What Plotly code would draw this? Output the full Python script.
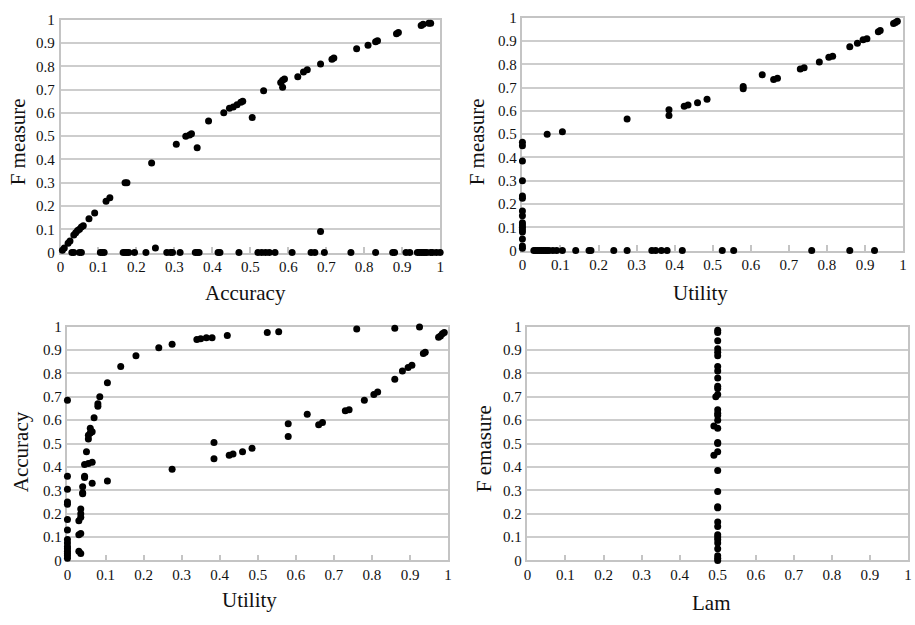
import plotly.graph_objects as go

# ---------------- Data ----------------
# Panel 1: F measure vs Accuracy
p1_acc = [0.005, 0.01, 0.02, 0.025, 0.035, 0.04, 0.045, 0.05, 0.055, 0.06, 0.075, 0.09,
          0.12, 0.13, 0.17, 0.175, 0.24, 0.305, 0.33, 0.34, 0.345, 0.36, 0.39, 0.43, 0.445,
          0.455, 0.465, 0.475, 0.48, 0.505, 0.535, 0.58, 0.585, 0.59, 0.585, 0.625, 0.64,
          0.65, 0.685, 0.715, 0.72, 0.78, 0.81, 0.83, 0.835, 0.885, 0.89, 0.95, 0.955, 0.97,
          0.975, 0.685, 0.25,
          0.03, 0.035, 0.05, 0.055, 0.105, 0.11, 0.115, 0.165, 0.17, 0.175, 0.18, 0.195,
          0.225, 0.28, 0.29, 0.295, 0.315, 0.355, 0.36, 0.365, 0.415, 0.42, 0.47, 0.52,
          0.53, 0.54, 0.55, 0.565, 0.61, 0.66, 0.67, 0.695, 0.765, 0.83, 0.875, 0.88, 0.91,
          0.92, 0.94, 0.945, 0.95, 0.955, 0.96, 0.965, 0.975, 0.98, 0.99, 1.0]
p1_f = [0.01, 0.02, 0.04, 0.05, 0.075, 0.085, 0.095, 0.10, 0.11, 0.115, 0.145, 0.17,
        0.22, 0.235, 0.30, 0.30, 0.385, 0.465, 0.50, 0.505, 0.51, 0.45, 0.565, 0.60, 0.62,
        0.625, 0.635, 0.645, 0.65, 0.58, 0.695, 0.73, 0.74, 0.745, 0.71, 0.755, 0.775,
        0.785, 0.81, 0.83, 0.835, 0.875, 0.89, 0.905, 0.91, 0.94, 0.945, 0.975, 0.98, 0.985,
        0.985, 0.09, 0.02,
        0, 0, 0, 0, 0, 0, 0, 0, 0, 0, 0, 0,
        0, 0, 0, 0, 0, 0, 0, 0, 0, 0, 0, 0,
        0, 0, 0, 0, 0, 0, 0, 0, 0, 0, 0, 0, 0,
        0, 0, 0, 0, 0, 0, 0, 0, 0, 0, 0]

# Panel 2: F measure vs Utility
p2_util = [0, 0, 0, 0, 0, 0, 0, 0, 0, 0, 0, 0, 0, 0, 0, 0,
           0.065, 0.105, 0.275, 0.385, 0.385, 0.425, 0.435, 0.46, 0.485, 0.58, 0.58, 0.63,
           0.66, 0.67, 0.73, 0.74, 0.78, 0.805, 0.815, 0.86, 0.88, 0.895, 0.905, 0.935, 0.94,
           0.975, 0.98, 0.985,
           0.03, 0.035, 0.04, 0.045, 0.05, 0.055, 0.06, 0.065, 0.07, 0.08, 0.09, 0.105, 0.14,
           0.175, 0.18, 0.24, 0.275, 0.34, 0.35, 0.365, 0.38, 0.42, 0.525, 0.555, 0.76, 0.86,
           0.925]
p2_f = [0.01, 0.02, 0.05, 0.08, 0.09, 0.10, 0.11, 0.12, 0.15, 0.17, 0.225, 0.235, 0.30,
        0.385, 0.45, 0.465,
        0.50, 0.51, 0.565, 0.605, 0.58, 0.62, 0.625, 0.635, 0.65, 0.705, 0.695, 0.755,
        0.735, 0.74, 0.78, 0.785, 0.81, 0.83, 0.835, 0.875, 0.89, 0.905, 0.91, 0.94, 0.945,
        0.975, 0.98, 0.985,
        0, 0, 0, 0, 0, 0, 0, 0, 0, 0, 0, 0, 0,
        0, 0, 0, 0, 0, 0, 0, 0, 0, 0, 0, 0, 0,
        0]

# Panel 3: Accuracy vs Utility
p3_util = [0, 0, 0, 0, 0, 0, 0, 0, 0, 0, 0, 0, 0, 0, 0,
           0.03, 0.035, 0.03, 0.035, 0.03, 0.035, 0.035, 0.035, 0.04, 0.04, 0.04, 0.045,
           0.045, 0.045, 0.05, 0.055, 0.055, 0.055, 0.06, 0.06, 0.065, 0.065, 0.065, 0.07,
           0.08, 0.08, 0.085, 0.105, 0.14, 0.18, 0.24, 0.275, 0.34, 0.35, 0.365, 0.38, 0.42,
           0.525, 0.555, 0.76, 0.86, 0.925,
           0.105, 0.275, 0.385, 0.385, 0.425, 0.435, 0.46, 0.485, 0.58, 0.58, 0.63, 0.66,
           0.67, 0.73, 0.74, 0.78, 0.805, 0.815, 0.86, 0.88, 0.895, 0.905, 0.935, 0.94,
           0.975, 0.98, 0.985, 0.99]
p3_acc = [0.01, 0.02, 0.03, 0.04, 0.05, 0.06, 0.075, 0.09, 0.13, 0.175, 0.24, 0.25, 0.305,
          0.36, 0.685,
          0.04, 0.03, 0.11, 0.115, 0.17, 0.185, 0.20, 0.22, 0.285, 0.29, 0.315, 0.355,
          0.36, 0.41, 0.465, 0.415, 0.52, 0.535, 0.545, 0.565, 0.55, 0.42, 0.33, 0.61,
          0.66, 0.67, 0.70, 0.76, 0.83, 0.875, 0.91, 0.925, 0.945, 0.948, 0.952, 0.952, 0.962,
          0.975, 0.978, 0.99, 0.993, 0.998,
          0.34, 0.39, 0.505, 0.435, 0.45, 0.455, 0.465, 0.48, 0.585, 0.53, 0.625, 0.58,
          0.59, 0.64, 0.645, 0.685, 0.71, 0.72, 0.775, 0.81, 0.825, 0.835, 0.885, 0.89,
          0.955, 0.96, 0.97, 0.975]

# Panel 4: F measure vs Lam
p4_lam = [0.5, 0.5, 0.5, 0.5, 0.5, 0.5, 0.5, 0.5, 0.5, 0.5, 0.5, 0.5, 0.5, 0.5, 0.49,
          0.5, 0.5, 0.5, 0.5, 0.49, 0.5, 0.5, 0.5, 0.5, 0.495, 0.5, 0.5, 0.5, 0.5, 0.5,
          0.5, 0.5, 0.5, 0.5, 0.5, 0.5, 0.5]
p4_f = [0.0, 0.01, 0.02, 0.05, 0.075, 0.09, 0.10, 0.11, 0.145, 0.165, 0.225, 0.23, 0.295,
        0.385, 0.45, 0.465, 0.50, 0.505, 0.565, 0.575, 0.60, 0.62, 0.63, 0.645, 0.70,
        0.71, 0.735, 0.745, 0.78, 0.81, 0.83, 0.875, 0.89, 0.905, 0.94, 0.975, 0.985]

tick_vals = [i / 10 for i in range(11)]
tick_text = ["0"] + ["0.%d" % i for i in range(1, 10)] + ["1"]

# ---------------- Figure ----------------
W, H = 915, 625
FONT = "Liberation Serif"

def px_dom_x(a, b):
    return [a / W, b / W]

def px_dom_y(top, bottom):
    return [1 - bottom / H, 1 - top / H]

panels = [
    dict(x=p1_acc, y=p1_f, dx=px_dom_x(57, 440), dy=px_dom_y(12, 251),
         xt="Accuracy", yt="F measure", xtpos=(244, 292), ytpos=(15, 137)),
    dict(x=p2_util, y=p2_f, dx=px_dom_x(523, 907), dy=px_dom_y(10, 249),
         xt="Utility", yt="F measure", xtpos=(703, 293), ytpos=(478, 137)),
    dict(x=p3_util, y=p3_acc, dx=px_dom_x(64, 448), dy=px_dom_y(327, 567),
         xt="Utility", yt="Accuracy", xtpos=(248, 608), ytpos=(18, 455)),
    dict(x=p4_lam, y=p4_f, dx=px_dom_x(528, 912), dy=px_dom_y(327, 567),
         xt="Lam", yt="F emasure", xtpos=(713, 611), ytpos=(485, 452)),
]

fig = go.Figure()
annotations = []
for i, p in enumerate(panels, start=1):
    sfx = "" if i == 1 else str(i)
    fig.add_trace(go.Scatter(
        x=p["x"], y=p["y"], mode="markers",
        marker=dict(symbol="circle", size=7, color="black",
                    line=dict(width=0)),
        cliponaxis=False, showlegend=False,
        xaxis="x" + sfx, yaxis="y" + sfx,
    ))
    axis_common = dict(
        range=[0, 1], tickvals=tick_vals, ticktext=tick_text,
        showline=True, linecolor="#c4c4c4", linewidth=1.5, mirror=True,
        zeroline=False, tickfont=dict(family=FONT, size=15, color="#111"),
        fixedrange=True, layer="below traces",
    )
    fig.update_layout(**{
        "xaxis" + sfx: dict(domain=p["dx"], anchor="y" + sfx, showgrid=False,
                            ticks="inside", ticklen=6, tickwidth=1.5,
                            tickcolor="#c4c4c4", **axis_common),
        "yaxis" + sfx: dict(domain=p["dy"], anchor="x" + sfx, showgrid=True,
                            gridcolor="#cdcdcd", gridwidth=1.5, ticks="",
                            ticklabelstandoff=1, **axis_common),
    })
    annotations.append(dict(
        text=p["xt"], xref="paper", yref="paper",
        x=p["xtpos"][0] / W, y=1 - p["xtpos"][1] / H,
        xanchor="center", yanchor="middle", showarrow=False,
        font=dict(family=FONT, size=21, color="#111")))
    annotations.append(dict(
        text=p["yt"], xref="paper", yref="paper",
        x=p["ytpos"][0] / W, y=1 - p["ytpos"][1] / H, textangle=-90,
        xanchor="center", yanchor="middle", showarrow=False,
        font=dict(family=FONT, size=21, color="#111")))

fig.update_layout(
    width=W, height=H, margin=dict(l=0, r=0, t=0, b=0),
    paper_bgcolor="white", plot_bgcolor="white",
    annotations=annotations,
)

fig.write_html("out.html", config={"displayModeBar": False})
